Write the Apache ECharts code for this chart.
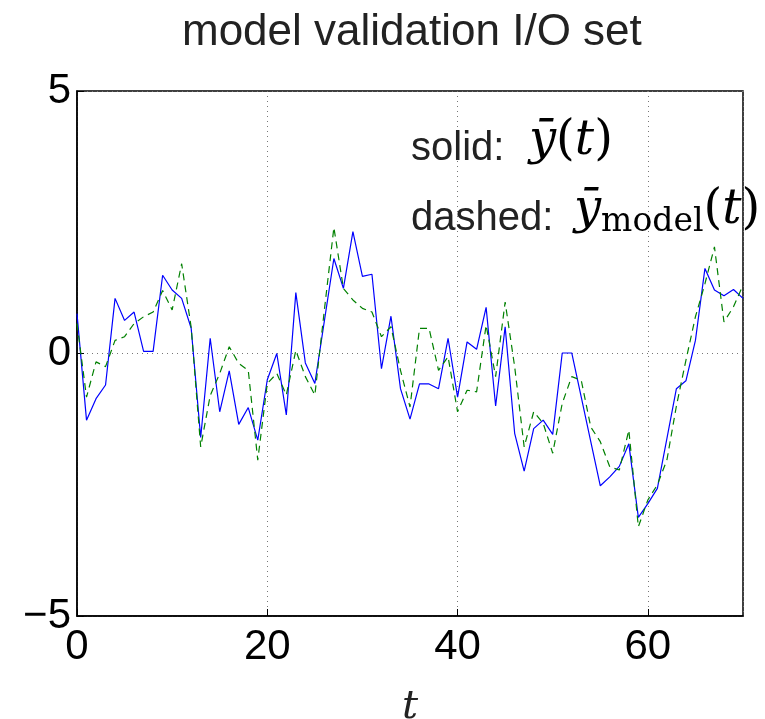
<!DOCTYPE html>
<html>
<head>
<meta charset="utf-8">
<script src="https://cdn.jsdelivr.net/npm/echarts@6/dist/echarts.min.js"></script>
<style>
  html, body { margin: 0; padding: 0; background: #fff; }
  #main { width: 765px; height: 719px; }
</style>
</head>
<body>
<div id="main"></div>
<script>
// t = 0 .. 70
const tValues = [
  0, 1, 2, 3, 4, 5, 6, 7, 8, 9, 10, 11, 12, 13, 14, 15, 16, 17, 18, 19,
  20, 21, 22, 23, 24, 25, 26, 27, 28, 29, 30, 31, 32, 33, 34, 35, 36, 37, 38, 39,
  40, 41, 42, 43, 44, 45, 46, 47, 48, 49, 50, 51, 52, 53, 54, 55, 56, 57, 58, 59,
  60, 61, 62, 63, 64, 65, 66, 67, 68, 69, 70
]

// solid: y(t)
const ySolid = [
  0.76, -1.27, -0.86, -0.60, 1.05, 0.63, 0.79, 0.04, 0.04, 1.49,
  1.21, 1.05, 0.48, -1.60, 0.29, -1.11, -0.33, -1.35, -1.03, -1.65,
  -0.50, 0.00, -1.17, 1.16, -0.18, -0.57, 0.62, 1.81, 1.24, 2.32,
  1.47, 1.51, -0.29, 0.71, -0.67, -1.25, -0.58, -0.58, -0.67, 0.29,
  -0.83, 0.22, 0.08, 0.88, -1.00, 0.51, -1.52, -2.24, -1.43, -1.27,
  -1.54, 0.01, 0.01, -0.83, -1.68, -2.52, -2.35, -2.15, -1.72, -3.12,
  -2.86, -2.57, -1.62, -0.67, -0.52, 0.25, 1.62, 1.21, 1.10, 1.22,
  1.05
]

// dashed: y_model(t)
const yModel = [
  0.57, -0.83, -0.16, -0.25, 0.25, 0.32, 0.57, 0.70, 0.79, 1.20,
  0.83, 1.71, 0.50, -1.78, -0.80, -0.38, 0.13, -0.19, -0.32, -2.03,
  -0.57, -0.38, -0.79, 0.06, -0.44, -0.79, 0.83, 2.40, 1.24, 1.02,
  0.86, 0.79, 0.32, 0.51, -0.32, -1.02, 0.48, 0.48, -0.32, -0.06,
  -1.11, -0.70, -0.73, 0.54, -0.44, 0.98, -0.25, -1.78, -1.11, -1.33,
  -1.90, -0.95, -0.44, -0.51, -1.40, -1.68, -2.16, -2.22, -1.46, -3.30,
  -2.79, -2.50, -2.03, -1.00, -0.13, 0.70, 1.33, 2.03, 0.60, 0.89,
  1.30
]

const xTicks = [0, 20, 40, 60]
const yTicks = [-5, 0, 5]

const sans = 'Liberation Sans'
const serif = 'DejaVu Serif'

const chart = echarts.init(document.getElementById('main'), null, {renderer: 'canvas'})

// math text styles for the annotation
const mathRich = {
  m: { fontFamily: serif, fontSize: 48, color: '#222', lineHeight: 56 },
  mi: { fontFamily: serif, fontStyle: 'italic', fontSize: 48, color: '#222', lineHeight: 56 },
  sub: { fontFamily: serif, fontSize: 33, color: '#222', lineHeight: 28, verticalAlign: 'bottom' }
}

const option = {
  animation: false,
  title: {
    text: 'model validation I/O set',
    left: 177,
    top: 6,
    textStyle: { fontFamily: sans, fontSize: 44, fontWeight: 'normal', color: '#222' }
  },
  grid: {
    left: 77, right: 22, top: 91, bottom: 103,
    outerBoundsMode: 'none',
    show: true, borderColor: '#000', borderWidth: 1.5, backgroundColor: '#fff'
  },
  xAxis: {
    type: 'value',
    min: 0, max: 70, interval: 20,
    name: 't',
    nameLocation: 'middle',
    nameGap: 72,
    nameTextStyle: { fontFamily: serif, fontStyle: 'italic', fontSize: 40, color: '#222' },
    axisLine: { show: true, onZero: false, lineStyle: { color: '#000', width: 1.5 } },
    axisTick: { inside: true, length: 7, lineStyle: { color: '#000' } },
    axisLabel: {
      margin: 10, fontFamily: sans, fontSize: 42, color: '#000',
      showMaxLabel: false,
      formatter: v => xTicks.includes(v) ? String(v) : ''
    },
    splitLine: { show: true, lineStyle: { type: [1, 4], color: '#777', width: 1 } }
  },
  yAxis: {
    type: 'value',
    min: -5, max: 5, interval: 5,
    axisLine: { show: true, onZero: false, lineStyle: { color: '#000', width: 1.5 } },
    axisTick: { inside: true, length: 7, lineStyle: { color: '#000' } },
    axisLabel: {
      margin: 6, fontFamily: sans, fontSize: 42, color: '#000',
      formatter: v => yTicks.includes(v) ? String(v).replace('-', '\u2212') : ''
    },
    splitLine: { show: true, lineStyle: { type: [1, 4], color: '#777', width: 1 } }
  },
  series: [
    {
      name: 'solid',
      type: 'line',
      data: tValues.map((t, i) => [t, ySolid[i]]),
      showSymbol: false,
      lineStyle: { color: '#0000ff', width: 1.2 }
    },
    {
      name: 'dashed',
      type: 'line',
      data: tValues.map((t, i) => [t, yModel[i]]),
      showSymbol: false,
      lineStyle: { color: '#008000', width: 1.2, type: [7, 5] }
    }
  ],
  graphic: [
    {
      type: 'text', left: 411, top: 129, z: 10,
      style: { text: 'solid:', fontFamily: sans, fontSize: 40, fill: '#222' }
    },
    {
      type: 'text', left: 529, top: 118, z: 10,
      style: { text: '{mi|ȳ}{m|(}{mi|t}{m|)}', rich: mathRich }
    },
    {
      type: 'text', left: 411, top: 199, z: 10,
      style: { text: 'dashed:', fontFamily: sans, fontSize: 40, fill: '#222' }
    },
    {
      type: 'text', left: 574, top: 187, z: 10,
      style: { text: '{mi|ȳ}{sub|model}{m|(}{mi|t}{m|)}', rich: mathRich }
    }
  ]
}

chart.setOption(option)
</script>
</body>
</html>
